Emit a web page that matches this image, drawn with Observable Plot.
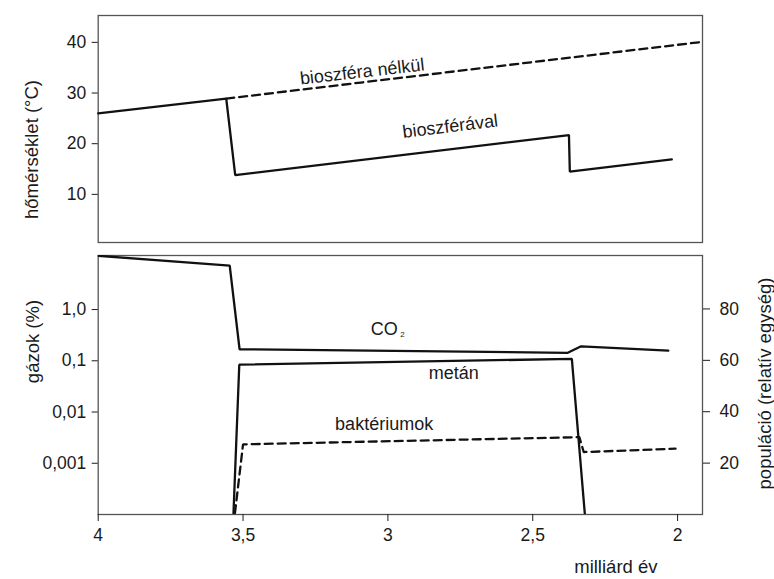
<!DOCTYPE html>
<html><head><meta charset="utf-8">
<script src="https://cdn.jsdelivr.net/npm/d3@7"></script>
<script src="https://cdn.jsdelivr.net/npm/@observablehq/plot@0.6"></script>
<style>
html,body{margin:0;padding:0;background:#fff;}
#chart{position:relative;width:774px;height:579px;overflow:hidden;background:#fff;}
#chart svg{position:absolute;left:0;top:0;}
</style></head><body><div id="chart"></div>
<script>
// ---- data ----
// upper panel: temperature (°C) vs billion years ago
const bioYears = [4, 3.558, 3.527, 2.375, 2.372, 2.02];
const bioTemp  = [26, 28.9, 13.8, 21.7, 14.5, 16.9];
const noBioYears = [3.558, 1.914];
const noBioTemp  = [28.9, 40.1];
// lower panel: gases (%) – log scale
const co2Years = [4, 3.546, 3.512, 2.379, 2.333, 2.032];
const co2Vals  = [11.2, 7.2, 0.168, 0.143, 0.192, 0.158];
const ch4Years = [3.533, 3.513, 2.365, 2.320];
const ch4Vals  = [0.000105, 0.084, 0.109, 0.0001];
// bacteria population (relative units) – right axis
const bactYears = [3.528, 3.500, 2.339, 2.324, 2.007];
const bactPop   = [0.5, 27.3, 30.1, 24.3, 25.6];
// ticks
const xTicks = [4, 3.5, 3, 2.5, 2];
const xTickLabels = ["4", "3,5", "3", "2,5", "2"];
const tempTicks = [10, 20, 30, 40];
const gasTicks = [0.001, 0.01, 0.1, 1];
const gasTickLabels = ["0,001", "0,01", "0,1", "1,0"];
const popTicks = [20, 40, 60, 80];

const zip = (xs, ys) => xs.map((x, i) => ({x, y: ys[i]}));
const W = 774, H = 579;
const xDomain = [4, 1.914];
const font = {fontFamily: "'Liberation Sans', Arial, sans-serif", fontSize: "17.5px", color: "#1a1a1a", background: "transparent", overflow: "visible"};
const lineStyle = {x: "x", y: "y", stroke: "#111", strokeWidth: 2.3, strokeLinejoin: "miter"};
const dash = "8,5";
const frameStroke = "#555";
const FS = 18;

const topPanel = Plot.plot({
  width: W, height: H,
  marginLeft: 97.7, marginRight: W - 702, marginTop: 15, marginBottom: H - 242,
  style: font,
  x: {domain: xDomain, axis: null},
  y: {domain: [0.5, 45.3], axis: null},
  marks: [
    Plot.frame({stroke: frameStroke, strokeWidth: 1.3}),
    Plot.axisY({ticks: tempTicks, tickSize: 6, tickPadding: 6, label: null, anchor: "left", fontSize: 17.5}),
    Plot.line(zip(noBioYears, noBioTemp), {...lineStyle, strokeDasharray: dash}),
    Plot.line(zip(bioYears, bioTemp), lineStyle),
    Plot.text([{x: 3.089, y: 34.2, t: "bioszféra nélkül"}], {x: "x", y: "y", text: "t", rotate: -6.5, fontSize: FS}),
    Plot.text([{x: 2.785, y: 23.4, t: "bioszférával"}], {x: "x", y: "y", text: "t", rotate: -7, fontSize: FS}),
    Plot.text(["hőmérséklet (°C)"], {frameAnchor: "left", textAnchor: "middle", dx: -66, dy: 20.5, rotate: -90, fontSize: 18.5})
  ]
});

const bottomPanel = Plot.plot({
  width: W, height: H,
  marginLeft: 97.7, marginRight: W - 702, marginTop: 255, marginBottom: H - 514,
  style: font,
  x: {domain: xDomain, axis: null},
  y: {type: "log", domain: [0.0001, 11.35], axis: null},
  marks: [
    Plot.frame({stroke: frameStroke, strokeWidth: 1.3}),
    Plot.axisY({ticks: gasTicks, tickFormat: d => gasTickLabels[gasTicks.indexOf(d)], tickSize: 6, tickPadding: 6, label: null, anchor: "left", fontSize: 17.5}),
    Plot.axisX({ticks: xTicks, tickFormat: d => xTickLabels[xTicks.indexOf(d)], tickSize: 7, tickPadding: 7, label: null, anchor: "bottom", fontSize: 17.5}),
    Plot.line(zip(co2Years, co2Vals), {...lineStyle, clip: true}),
    Plot.line(zip(ch4Years, ch4Vals), {...lineStyle, clip: true}),
    Plot.text([{x: 3.013, y: 0.416, t: "CO"}], {x: "x", y: "y", text: "t", fontSize: FS}),
    Plot.text([{x: 2.950, y: 0.33, t: "2"}], {x: "x", y: "y", text: "t", fontSize: 8}),
    Plot.text([{x: 2.773, y: 0.056, t: "metán"}], {x: "x", y: "y", text: "t", fontSize: FS}),
    Plot.text([{x: 3.013, y: 0.0057, t: "baktériumok"}], {x: "x", y: "y", text: "t", fontSize: FS}),
    Plot.text(["gázok (%)"], {frameAnchor: "left", textAnchor: "middle", dx: -65, dy: -43.5, rotate: -90, fontSize: 18.5}),
    Plot.text([{x: 2.213, t: "milliárd év"}], {x: "x", text: "t", frameAnchor: "bottom", dy: 58, fontSize: 18.5})
  ]
});

const overlayPanel = Plot.plot({
  width: W, height: H,
  marginLeft: 97.7, marginRight: W - 702, marginTop: 255, marginBottom: H - 514,
  style: font,
  x: {domain: xDomain, axis: null},
  y: {domain: [0, 100.8], axis: null},
  marks: [
    Plot.axisY({ticks: popTicks, tickSize: 7, tickPadding: 10, label: null, anchor: "right", fontSize: 17.5}),
    Plot.line(zip(bactYears, bactPop), {...lineStyle, strokeDasharray: dash}),
    Plot.text(["populáció (relatív egység)"], {frameAnchor: "right", textAnchor: "middle", dx: 63, dy: -1.5, rotate: -90, fontSize: 18.5})
  ]
});

document.getElementById("chart").append(topPanel, bottomPanel, overlayPanel);
</script></body></html>
